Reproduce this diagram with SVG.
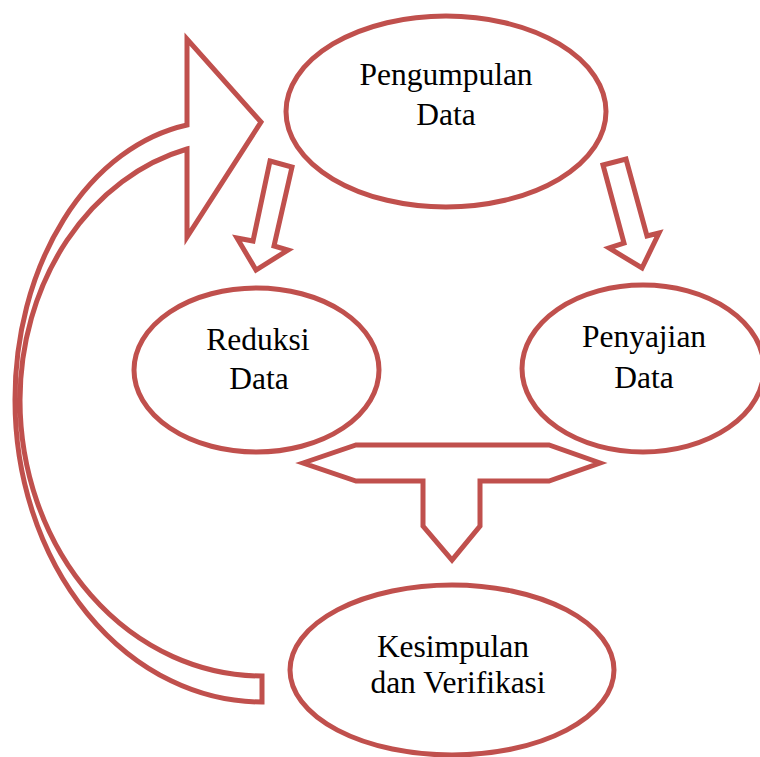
<svg xmlns="http://www.w3.org/2000/svg" width="760" height="757" viewBox="0 0 760 757">
<style>
.s{fill:#fff;stroke:#C0504D;stroke-width:5;stroke-linejoin:miter;stroke-miterlimit:10}
.t{font-family:"Liberation Serif","Times New Roman",serif;font-size:31.5px;fill:#000;text-anchor:middle}
</style>
<rect width="760" height="757" fill="#fff"/>
<g id="connectors">
<path class="s" d="M187,125 L187,39 L261,122 L187,237 L187,149 A220 259 0 0 0 20,400 A242 276 0 0 0 262,676 L262,702 A247 302 0 0 1 15,400 A205 278 0 0 1 187,125 Z"/>
<polygon class="s" points="270,161 292,167 274,246 288,250 256,270 237,238 253,241"/>
<polygon class="s" points="603,165 626,159 647,236 659,233 642,268 609,248 624,243"/>
<polygon class="s" points="303,463 356,445 549,445 600,463 549,481 480,481 480,526 452,560 423,526 423,481 356,481"/>
</g>
<g id="pengumpulan">
<ellipse class="s" cx="446" cy="111.5" rx="160" ry="95.5"/>
<text class="t" x="446" y="85">Pengumpulan</text>
<text class="t" x="446" y="125">Data</text>
</g>
<g id="reduksi">
<ellipse class="s" cx="256.5" cy="370" rx="122.5" ry="82"/>
<text class="t" x="258" y="350">Reduksi</text>
<text class="t" x="259" y="389">Data</text>
</g>
<g id="penyajian">
<ellipse class="s" cx="643" cy="368.5" rx="121" ry="83.5"/>
<text class="t" x="644" y="347">Penyajian</text>
<text class="t" x="644" y="388">Data</text>
</g>
<g id="kesimpulan">
<ellipse class="s" cx="452" cy="670" rx="162" ry="85"/>
<text class="t" x="453" y="657">Kesimpulan</text>
<text class="t" x="458" y="693">dan Verifikasi</text>
</g>
</svg>
